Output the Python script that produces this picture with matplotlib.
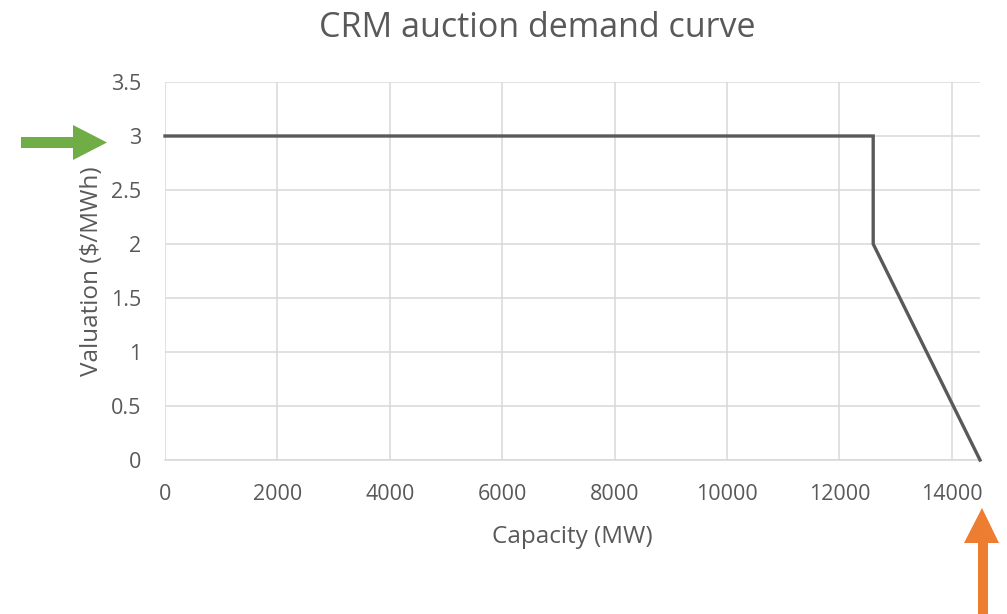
import matplotlib
matplotlib.use("Agg")
import matplotlib.pyplot as plt
from matplotlib.patches import Polygon

plt.rcParams['font.family'] = ['Open Sans', 'DejaVu Sans']

# Demand curve breakpoints
capacity_mw = [0, 12600, 12600, 14500]
valuation = [3, 3, 2, 0]

x_ticks = [0, 2000, 4000, 6000, 8000, 10000, 12000, 14000]
y_ticks = [0, 0.5, 1, 1.5, 2, 2.5, 3, 3.5]
y_tick_labels = ['0', '0.5', '1', '1.5', '2', '2.5', '3', '3.5']

W, H = 1007, 614
fig = plt.figure(figsize=(W / 100, H / 100), dpi=100)
ax = fig.add_axes([165 / W, 1 - 460 / H, (980 - 165) / W, (460 - 82) / H])

text_color = '#595959'
grid_color = '#d9d9d9'

ax.plot(capacity_mw, valuation, color='#595959', linewidth=2.4,
        solid_joinstyle='miter', clip_on=False, zorder=3)

ax.set_xlim(0, 14500)
ax.set_ylim(0, 3.5)
ax.set_xticks(x_ticks)
ax.set_xticklabels([str(v) for v in x_ticks])
ax.set_yticks(y_ticks)
ax.set_yticklabels(y_tick_labels)
ax.grid(True, color=grid_color, linewidth=1.1)
ax.set_axisbelow(True)
for side in ['top', 'right', 'left']:
    ax.spines[side].set_visible(False)
ax.spines['bottom'].set_color(grid_color)
ax.spines['bottom'].set_linewidth(1.1)
ax.tick_params(length=0, labelsize=15.5, labelcolor=text_color)
ax.tick_params(axis='x', pad=17)
ax.tick_params(axis='y', pad=17)

ax.set_xlabel('Capacity (MW)', fontsize=17.5, color=text_color, labelpad=15)
ax.set_ylabel('Valuation ($/MWh)', fontsize=17.5, color=text_color, labelpad=5)
fig.text(537 / W, 1 - 28 / H, 'CRM auction demand curve', fontsize=24.5,
         color=text_color, ha='center', va='center')


def px_poly(points, color):
    verts = [(x / W, 1 - y / H) for x, y in points]
    fig.patches.append(Polygon(verts, closed=True, transform=fig.transFigure,
                               facecolor=color, edgecolor='none'))


# Arrow pointing at the price cap
px_poly([(21, 137), (73, 137), (73, 125), (107, 142.5), (73, 160), (73, 148), (21, 148)],
        '#70ad47')
# Arrow pointing at the end of the curve
px_poly([(978, 614), (978, 543), (964, 543), (982, 508), (999, 543), (988, 543), (988, 614)],
        '#ed7d31')

fig.savefig('out.png', dpi=100)
